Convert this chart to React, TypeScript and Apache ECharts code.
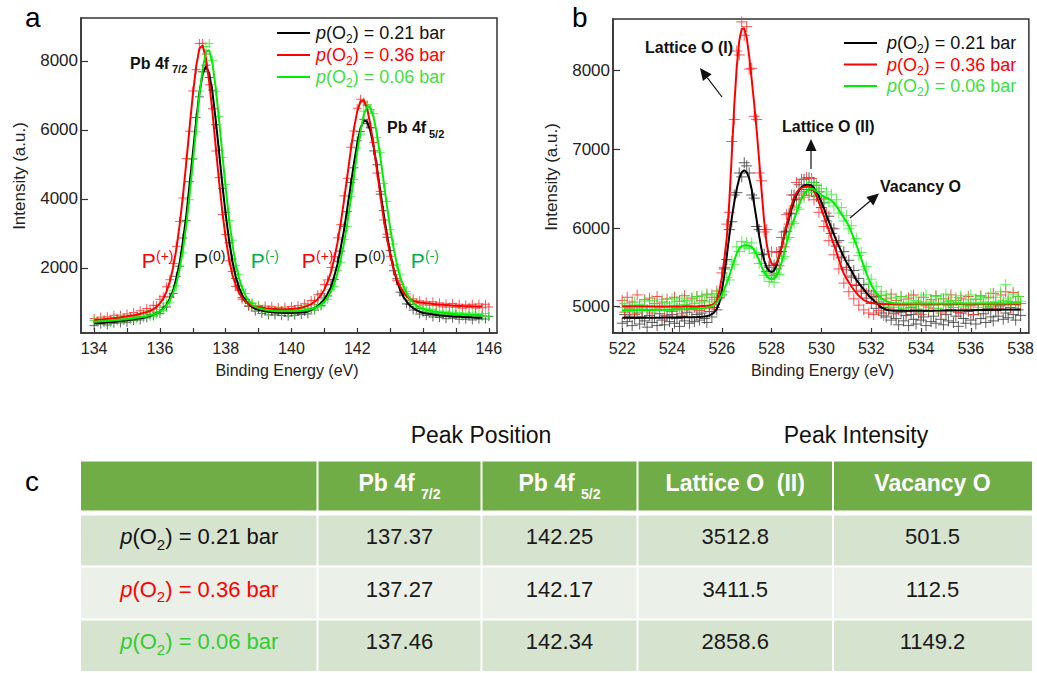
import React, { useEffect, useRef } from 'react';
import * as echarts from 'echarts';

const FONT = "'Liberation Sans', Arial, Helvetica, sans-serif";

// ---------------- Panel a : Pb 4f ----------------
const aStart = 134.0;
const aXTicks = [134, 135, 136, 137, 138, 139, 140, 141, 142, 143, 144, 145, 146];
const aXLabels = [134, 136, 138, 140, 142, 144, 146];
const aYLabels = [2000, 4000, 6000, 8000];

const aScatterBlack = [
  330, 436, 374, 432, 350, 438, 398, 499, 410, 492,
  425, 529, 474, 570, 495, 580, 555, 655, 610, 720,
  685, 865, 870, 1160, 1255, 1760, 2050, 2870, 3380, 4500,
  5160, 6360, 6960, 7690, 7880, 7520, 7155, 6155, 5415, 4310,
  3615, 2730, 2260, 1700, 1480, 1140, 1080, 890, 890, 750,
  825, 685, 765, 640, 750, 640, 744, 620, 708, 607,
  727, 630, 744, 649, 745, 670, 820, 780, 934, 915,
  1131, 1190, 1513, 1670, 2197, 2490, 3206, 3630, 4477, 4904,
  5686, 5952, 6309, 6184, 6063, 5394, 4992, 4140, 3662, 2890,
  2503, 1920, 1687, 1300, 1214, 960, 942, 780, 821, 665,
  727, 620, 705, 580, 687, 564, 647, 530, 643, 546,
  640, 515, 610, 515, 610, 495, 611, 518, 615, 522,
  590,
];
const aScatterRed = [
  537, 457, 577, 497, 587, 488, 629, 531, 634, 547,
  670, 584, 709, 605, 762, 670, 827, 775, 918, 915,
  1095, 1170, 1455, 1660, 2130, 2630, 3350, 4030, 5170, 5965,
  7130, 7750, 8510, 8510, 8200, 7310, 6615, 5390, 4620, 3550,
  2970, 2210, 1900, 1465, 1360, 1095, 1090, 905, 975, 820,
  917, 782, 897, 778, 889, 753, 857, 767, 867, 760,
  884, 784, 915, 822, 964, 930, 1061, 1050, 1226, 1260,
  1520, 1656, 2016, 2329, 2874, 3256, 4090, 4600, 5500, 5970,
  6630, 6890, 6810, 6720, 6070, 5640, 4750, 4220, 3390, 2980,
  2340, 2080, 1630, 1525, 1270, 1250, 1055, 1105, 980, 1050,
  930, 1020, 920, 1020, 910, 990, 872, 965, 868, 970,
  865, 950, 836, 933, 860, 948, 837, 957, 848, 949,
  870,
];
const aScatterGreen = [
  480, 417, 504, 421, 498, 425, 523, 462, 550, 469,
  558, 500, 593, 516, 620, 555, 665, 590, 726, 660,
  800, 767, 983, 1008, 1342, 1483, 2053, 2437, 3337, 3979,
  5163, 5944, 7130, 7683, 8420, 8510, 8020, 7110, 6390, 5205,
  4425, 3380, 2805, 2075, 1805, 1386, 1264, 1010, 993, 835,
  887, 772, 830, 725, 802, 705, 788, 696, 785, 704,
  793, 708, 794, 714, 826, 750, 857, 795, 935, 890,
  1078, 1092, 1381, 1460, 1934, 2167, 2825, 3202, 4065, 4569,
  5478, 5878, 6544, 6735, 6590, 6474, 5785, 5353, 4451, 3928,
  3109, 2695, 2088, 1821, 1444, 1322, 1076, 1038, 867, 901,
  784, 830, 730, 800, 701, 754, 664, 745, 656, 717,
  629, 713, 628, 693, 608, 693, 610, 677, 594, 682,
  610,
];
const aFitBlack = [
  388, 396, 404, 412, 420, 428, 438, 449, 460, 472,
  485, 499, 514, 530, 545, 560, 585, 615, 650, 690,
  735, 825, 930, 1110, 1335, 1700, 2150, 2780, 3500, 4400,
  5310, 6240, 7060, 7630, 7840, 7640, 7075, 6265, 5345, 4400,
  3555, 2830, 2210, 1770, 1440, 1220, 1050, 950, 870, 820,
  785, 765, 745, 730, 720, 710, 704, 700, 698, 697,
  697, 700, 704, 709, 715, 740, 790, 840, 894, 985,
  1091, 1250, 1443, 1760, 2117, 2600, 3106, 3750, 4387, 5034,
  5606, 6052, 6269, 6244, 5973, 5514, 4912, 4250, 3592, 2990,
  2443, 2010, 1637, 1380, 1174, 1030, 912, 840, 781, 735,
  697, 680, 665, 650, 637, 624, 617, 610, 603, 596,
  590, 585, 580, 575, 570, 565, 561, 558, 555,
];
const aFitRed = [
  487, 497, 507, 517, 527, 538, 549, 561, 574, 587,
  600, 614, 629, 645, 672, 700, 727, 755, 808, 875,
  975, 1110, 1315, 1600, 2010, 2550, 3250, 4090, 5040, 6055,
  7020, 7830, 8360, 8450, 8080, 7390, 6485, 5480, 4500, 3620,
  2870, 2270, 1810, 1515, 1290, 1135, 1030, 955, 905, 880,
  867, 852, 837, 828, 819, 813, 807, 807, 807, 810,
  814, 824, 835, 852, 874, 910, 951, 1020, 1096, 1220,
  1370, 1606, 1866, 2269, 2734, 3316, 3970, 4680, 5390, 6040,
  6540, 6830, 6860, 6630, 6150, 5530, 4840, 4120, 3460, 2890,
  2400, 2000, 1680, 1465, 1310, 1180, 1105, 1045, 1020, 1000,
  990, 980, 970, 960, 950, 940, 932, 925, 918, 910,
  905, 900, 896, 893, 890, 888, 887, 887, 888,
];
const aFitGreen = [
  440, 447, 454, 461, 468, 475, 483, 492, 500, 509,
  518, 530, 543, 556, 570, 585, 605, 630, 656, 690,
  740, 807, 913, 1058, 1282, 1553, 1973, 2527, 3237, 4089,
  5043, 6044, 7000, 7763, 8270, 8310, 7910, 7200, 6270, 5285,
  4315, 3450, 2715, 2135, 1725, 1436, 1204, 1050, 943, 875,
  837, 812, 790, 775, 762, 755, 748, 746, 745, 744,
  743, 748, 754, 764, 776, 790, 807, 835, 875, 940,
  1018, 1152, 1311, 1530, 1854, 2247, 2735, 3302, 3955, 4669,
  5358, 5968, 6444, 6675, 6650, 6364, 5875, 5233, 4531, 3828,
  3179, 2605, 2148, 1751, 1494, 1262, 1116, 988, 907, 851,
  814, 790, 770, 750, 731, 714, 704, 695, 686, 677,
  669, 663, 658, 653, 648, 643, 640, 637, 634,
];

// ---------------- Panel b : O 1s ----------------
const bStart = 522.0;
const bXLabels = [522, 524, 526, 528, 530, 532, 534, 536, 538];
const bYLabels = [5000, 6000, 7000, 8000];

const bScatterBlack = [
  4790, 4900, 4810, 4880, 4760, 4850, 4920, 4780, 4870, 4820,
  4740, 4890, 4800, 4860, 4760, 4910, 4830, 4770, 4880, 4810,
  4900, 4790, 4850, 4750, 4880, 4820, 4930, 4790, 4860, 4810,
  4900, 4830, 4920, 4850, 4800, 4940, 4870, 4990, 4960, 5120,
  5150, 5480, 5600, 5980, 6080, 6420, 6450, 6700, 6650, 6830,
  6790, 6700, 6420, 6380, 6020, 5980, 5660, 5670, 5450, 5520,
  5400, 5530, 5480, 5700, 5700, 5950, 5960, 6190, 6180, 6420,
  6360, 6550, 6460, 6620, 6490, 6640, 6480, 6580, 6400, 6460,
  6260, 6320, 6090, 6150, 5930, 5990, 5770, 5840, 5630, 5700,
  5500, 5590, 5390, 5460, 5270, 5360, 5190, 5280, 5110, 5200,
  5040, 5130, 4980, 5060, 4920, 4990, 4870, 4960, 4830, 4920,
  4850, 4770, 4930, 4820, 4890, 4760, 4900, 4840, 4780, 4920,
  4830, 4870, 4760, 4940, 4810, 4880, 4790, 4950, 4840, 4770,
  4900, 4820, 4960, 4800, 4880, 4750, 4920, 4850, 4790, 4940,
  4830, 4900, 4780, 4960, 4850, 4910, 4800, 4980, 4870, 4820,
  4950, 4880, 5010, 4840, 4920, 4860, 4990, 4900, 4830, 4960,
  4890,
];
const bScatterRed = [
  5080, 4930, 5120, 4980, 5060, 4900, 5150, 5010, 4950, 5090,
  4960, 5110, 4920, 5040, 5130, 4970, 5060, 4890, 5100, 5000,
  4940, 5120, 4980, 5070, 4910, 5140, 5020, 4960, 5100, 4990,
  5130, 4950, 5080, 5010, 5160, 4980, 5120, 5030, 5200, 5110,
  5430, 5500, 6050, 6200, 7100, 7380, 8250, 8200, 8620, 8450,
  8560, 8020, 8030, 7420, 7380, 6700, 6600, 5950, 5980, 5500,
  5700, 5420, 5690, 5520, 5880, 5760, 6170, 6050, 6420, 6280,
  6580, 6380, 6620, 6420, 6640, 6410, 6630, 6360, 6540, 6200,
  6370, 6020, 6190, 5840, 6000, 5660, 5820, 5480, 5620, 5300,
  5470, 5190, 5370, 5100, 5280, 5020, 5210, 4960, 5170, 4920,
  5150, 4900, 5120, 4950, 5140, 4890, 5100, 4980, 5160, 4910,
  5080, 4960, 5130, 5020, 4940, 5110, 4990, 5150, 4970, 5060,
  4900, 5120, 5010, 4950, 5090, 4980, 5140, 5030, 4920, 5100,
  4960, 5070, 5150, 4990, 5080, 4930, 5110, 5040, 4970, 5130,
  5010, 4900, 5090, 4960, 5140, 5030, 4950, 5120, 5000, 5170,
  5060, 4980, 5150, 5030, 5190, 5070, 4990, 5180, 5060, 5130,
  5040,
];
const bScatterGreen = [
  4990, 5040, 4940, 5020, 4970, 5060, 4950, 5030, 4980, 5070,
  4960, 5010, 5080, 4970, 5040, 4990, 5090, 5000, 5050, 4980,
  5100, 5020, 5070, 4990, 5110, 5030, 5080, 5010, 5120, 5040,
  5130, 5050, 5140, 5070, 5150, 5060, 5160, 5090, 5170, 5120,
  5200, 5190, 5370, 5340, 5580, 5540, 5760, 5700, 5830, 5760,
  5820, 5740, 5810, 5680, 5690, 5550, 5550, 5400, 5430, 5320,
  5390, 5310, 5430, 5410, 5610, 5640, 5860, 5880, 6080, 6060,
  6260, 6240, 6440, 6390, 6540, 6460, 6580, 6450, 6550, 6400,
  6500, 6360, 6460, 6330, 6430, 6280, 6360, 6190, 6260, 6090,
  6160, 5990, 6030, 5820, 5870, 5650, 5690, 5470, 5510, 5300,
  5350, 5170, 5260, 5090, 5190, 5040, 5150, 5000, 5120, 4990,
  5110, 5010, 5130, 4980, 5090, 5020, 5140, 5000, 5080, 4970,
  5120, 5030, 5150, 4990, 5070, 5020, 5130, 4980, 5100, 5040,
  5160, 5010, 5080, 4990, 5120, 5050, 5140, 5000, 5090, 5030,
  5150, 5020, 5100, 4990, 5130, 5060, 5110, 5000, 5170, 5050,
  5120, 5020, 5190, 5080, 5280, 5110, 5060, 5160, 5040, 5130,
  5070,
];
const bFitXEdgesLeft = [522, 523, 524, 525];
const bFitXEdgesRight = [534, 535, 536, 537, 538];
const bFitBlack = [
  4860, 4860, 4862, 4868,
  4870, 4873, 4877, 4882, 4890, 4905, 4930, 4975, 5050, 5200,
  5400, 5650, 5900, 6130, 6330, 6500, 6630, 6710, 6735, 6710,
  6630, 6490, 6300, 6100, 5900, 5720, 5590, 5500, 5455, 5440,
  5460, 5530, 5640, 5760, 5890, 6020, 6120, 6240, 6340, 6420,
  6480, 6520, 6540, 6550, 6550, 6540, 6510, 6460, 6400, 6330,
  6250, 6160, 6080, 6000, 5920, 5840, 5770, 5700, 5630, 5570,
  5515, 5460, 5400, 5340, 5300, 5260, 5220, 5180, 5140, 5110,
  5080, 5050, 5020, 4995, 4975, 4962, 4955, 4952, 4950, 4950,
  4950, 4952, 4955, 4960, 4965,
];
const bFitRed = [
  5005, 5003, 5002, 5005,
  5007, 5009, 5010, 5011, 5012, 5022, 5040, 5080, 5200, 5370,
  5600, 5880, 6330, 6930, 7560, 8050, 8380, 8530, 8540, 8420,
  8180, 7890, 7580, 7240, 6860, 6460, 6090, 5800, 5630, 5550,
  5530, 5560, 5640, 5760, 5900, 6040, 6170, 6290, 6390, 6450,
  6490, 6510, 6520, 6525, 6525, 6510, 6470, 6410, 6330, 6240,
  6150, 6060, 5970, 5880, 5790, 5700, 5600, 5500, 5420, 5360,
  5310, 5260, 5215, 5175, 5140, 5110, 5085, 5070, 5058, 5050,
  5045, 5040, 5037, 5035, 5033, 5032, 5031, 5030, 5030, 5030,
  5030, 5030, 5030, 5031, 5032,
];
const bFitGreen = [
  4955, 4958, 4962, 4975,
  4978, 4982, 4985, 4990, 4995, 5005, 5025, 5055, 5095, 5150,
  5220, 5300, 5390, 5490, 5590, 5680, 5740, 5770, 5780, 5780,
  5775, 5760, 5720, 5660, 5590, 5510, 5440, 5390, 5360, 5350,
  5355, 5390, 5460, 5560, 5680, 5810, 5930, 6030, 6110, 6200,
  6290, 6370, 6430, 6470, 6495, 6500, 6490, 6470, 6445, 6420,
  6400, 6385, 6370, 6350, 6320, 6280, 6230, 6180, 6130, 6080,
  6030, 5950, 5870, 5790, 5700, 5610, 5520, 5430, 5350, 5280,
  5220, 5175, 5140, 5110, 5085, 5070, 5060, 5052, 5048, 5045,
  5040, 5040, 5040, 5042, 5045,
];

// ---------------- Table c ----------------
const tableTitles = ['Peak Position', 'Peak Intensity'];
const tableHeaders = [['Pb 4f ', '7/2'], ['Pb 4f ', '5/2'], ['Lattice O  (II)', ''], ['Vacancy O', '']];
const tablePressures = ['0.21', '0.36', '0.06'];
const tableValues = [
  ['137.37', '142.25', '3512.8', '501.5'],
  ['137.27', '142.17', '3411.5', '112.5'],
  ['137.46', '142.34', '2858.6', '1149.2'],
];

const seriesNames = ['0.21', '0.36', '0.06'];

// ---------------- styling ----------------
const LINE_COLORS = ['#000000', '#ff0000', '#00ee00'];
const CROSS_COLORS = ['#3a3a3a', '#ff2a2a', '#2ef02e'];
const LEGEND_TEXT = ['#111111', '#ff0000', '#3ee03e'];
const TABLE_LABEL = ['#111111', '#ff0000', '#33cc33'];
const PLUS = 'path://M0,5L10,5M5,0L5,10';

const gridX = (start: number, n: number) =>
  Array.from({ length: n }, (_, i) => +(start + i * 0.1).toFixed(1));

function scatter(start: number, ys: number[], color: string, gi: number, size: number) {
  const xs = gridX(start, ys.length);
  return {
    type: 'scatter',
    xAxisIndex: gi,
    yAxisIndex: gi,
    data: ys.map((y, i) => [xs[i], y]),
    symbol: PLUS,
    symbolSize: size,
    itemStyle: { color: 'rgba(0,0,0,0)', borderColor: color, borderWidth: 1, opacity: 0.8 },
    silent: true,
    z: 2,
  };
}
function fitLine(xs: number[], ys: number[], color: string, gi: number) {
  return {
    type: 'line',
    xAxisIndex: gi,
    yAxisIndex: gi,
    data: ys.map((y, i) => [xs[i], y]),
    showSymbol: false,
    symbol: 'none',
    lineStyle: { color, width: 2 },
    silent: true,
    z: 3,
  };
}

function txt(text: string, x: number, y: number, size: number, color: string, extra: any = {}) {
  return {
    type: 'text',
    x,
    y,
    z: 50,
    silent: true,
    style: {
      text,
      fill: color,
      fontSize: size,
      fontFamily: FONT,
      align: 'left',
      verticalAlign: 'middle',
      ...extra,
    },
  };
}

// main tokens are top-aligned, the subscript token is bottom-aligned in a taller line
function pressureText(val: string, x: number, y: number, size: number, sub: number, drop: number, color: string, align: string) {
  const mainCenter = size / 2;
  const mainBase = mainCenter + 0.35 * size;
  const subBase = mainBase + drop;
  const subCenter = subBase - 0.35 * sub;
  const L = Math.round(subCenter + sub / 2);
  const base = { fontSize: size, lineHeight: size, verticalAlign: 'top', fill: color, fontFamily: FONT };
  return {
    type: 'text',
    x,
    y: y + (L / 2 - mainCenter),
    z: 50,
    silent: true,
    style: {
      text: `{i|p}{n|(O}{s|2}{n|) = ${val} bar}`,
      align,
      verticalAlign: 'middle',
      fill: color,
      fontFamily: FONT,
      fontSize: size,
      rich: {
        i: { ...base, fontStyle: 'italic' },
        n: base,
        s: { fontSize: sub, lineHeight: L, verticalAlign: 'bottom', fill: color, fontFamily: FONT },
      },
    },
  };
}

function arrow(x1: number, y1: number, x2: number, y2: number) {
  const dx = x2 - x1;
  const dy = y2 - y1;
  const L = Math.hypot(dx, dy);
  const ux = dx / L;
  const uy = dy / L;
  const hl = 12;
  const hw = 5.5;
  const bx = x2 - ux * hl;
  const by = y2 - uy * hl;
  return [
    { type: 'line', z: 50, silent: true, shape: { x1, y1, x2: bx, y2: by }, style: { stroke: '#111', lineWidth: 1.2 } },
    {
      type: 'polygon',
      z: 50,
      silent: true,
      shape: { points: [[x2, y2], [bx - uy * hw, by + ux * hw], [bx + uy * hw, by - ux * hw]] },
      style: { fill: '#111' },
    },
  ];
}

function axisX(gi: number, min: number, max: number, ticks: number[], labels: number[]) {
  return {
    type: 'value',
    gridIndex: gi,
    min,
    max,
    axisLine: { show: true, onZero: false, lineStyle: { color: '#333', width: 1.5 } },
    axisTick: { show: true, inside: true, length: 5, customValues: ticks, lineStyle: { color: '#333', width: 1.2 } },
    axisLabel: {
      customValues: labels,
      formatter: (v: number) => String(v),
      fontSize: 16,
      color: '#222',
      margin: 7,
      fontFamily: FONT,
    },
    splitLine: { show: false },
  };
}
function axisY(gi: number, min: number, max: number, labels: number[]) {
  return {
    type: 'value',
    gridIndex: gi,
    min,
    max,
    axisLine: { show: true, onZero: false, lineStyle: { color: '#333', width: 1.5 } },
    axisTick: { show: true, inside: true, length: 7, customValues: labels, lineStyle: { color: '#333', width: 1.2 } },
    axisLabel: {
      customValues: labels,
      formatter: (v: number) => String(v),
      fontSize: 17,
      color: '#222',
      margin: 3,
      fontFamily: FONT,
    },
    splitLine: { show: false },
  };
}

function buildGraphics() {
  const g: any[] = [];
  // panel letters
  g.push(txt('a', 25, 17, 28, '#000'));
  g.push(txt('b', 572, 17, 28, '#000'));
  g.push(txt('c', 25, 481, 28, '#000'));

  // axis names
  g.push(txt('Intensity (a.u.)', 19.5, 176, 17, '#222', { align: 'center' }));
  g[g.length - 1].rotation = Math.PI / 2;
  g.push(txt('Intensity (a.u.)', 551.5, 177, 17, '#222', { align: 'center' }));
  g[g.length - 1].rotation = Math.PI / 2;
  g.push(txt('Binding Energy (eV)', 287, 370, 16, '#222', { align: 'center' }));
  g.push(txt('Binding Energy (eV)', 822.5, 370, 16, '#222', { align: 'center' }));

  // legends
  const legA = { lx: 277, tx: 316, ys: [33, 55, 77] };
  const legB = { lx: 844, tx: 887, ys: [43, 64.5, 86] };
  [legA, legB].forEach((lg) => {
    lg.ys.forEach((y, k) => {
      g.push({
        type: 'line',
        z: 50,
        silent: true,
        shape: { x1: lg.lx, y1: y, x2: lg.lx + 33, y2: y },
        style: { stroke: LINE_COLORS[k], lineWidth: 2 },
      });
      g.push(pressureText(seriesNames[k], lg.tx, y, 18, 12, 3.5, LEGEND_TEXT[k], 'left'));
    });
  });

  // panel a annotations
  g.push(txt('Pb 4f', 130, 63, 16, '#111', { fontWeight: 'bold' }));
  g.push(txt('7/2', 172, 69, 11, '#111', { fontWeight: 'bold' }));
  g.push(txt('Pb 4f', 387, 127.5, 16, '#111', { fontWeight: 'bold' }));
  g.push(txt('5/2', 429, 134, 11, '#111', { fontWeight: 'bold' }));
  const pGroups = [
    [141.7, 194, 250.7],
    [301.7, 354, 410.7],
  ];
  const pSup = ['(+)', '(0)', '(-)'];
  const pColors = ['#ff0000', '#1a1a1a', '#00b050'];
  pGroups.forEach((grp) => {
    grp.forEach((x, k) => {
      g.push(txt('P', x, 260, 21, pColors[k]));
      g.push(txt(pSup[k], x + 14.3, 256, 14, pColors[k]));
    });
  });

  // panel b annotations
  g.push(txt('Lattice O (I)', 645, 47.5, 16, '#111', { fontWeight: 'bold' }));
  g.push(txt('Lattice O (II)', 782, 126, 16, '#111', { fontWeight: 'bold' }));
  g.push(txt('Vacancy O', 880, 186, 16, '#111', { fontWeight: 'bold' }));
  g.push(...arrow(722, 97, 700, 68));
  g.push(...arrow(811, 169, 811, 139));
  g.push(...arrow(850, 218, 879, 193.5));

  // table c
  const colX = [81, 317.5, 481.5, 637.5, 833, 1032];
  const headY = [461.5, 510.5];
  const rowY = [
    [515.5, 565.5],
    [567.5, 618.5],
    [620.5, 671],
  ];
  const rowFill = ['#d6e3cf', '#ebf0e8', '#d6e3cf'];
  g.push(txt(tableTitles[0], 481, 435, 23, '#111', { align: 'center' }));
  g.push(txt(tableTitles[1], 856, 435, 23, '#111', { align: 'center' }));

  for (let c = 0; c < 5; c++) {
    const x0 = colX[c] + (c === 0 ? 0 : 1);
    const x1 = colX[c + 1] - (c === 4 ? 0 : 1);
    g.push({
      type: 'rect',
      z: 1,
      silent: true,
      shape: { x: x0, y: headY[0], width: x1 - x0, height: headY[1] - headY[0] },
      style: { fill: '#70ad47' },
    });
    rowY.forEach((ry, r) => {
      g.push({
        type: 'rect',
        z: 1,
        silent: true,
        shape: { x: x0, y: ry[0], width: x1 - x0, height: ry[1] - ry[0] },
        style: { fill: rowFill[r] },
      });
    });
  }
  // header texts
  tableHeaders.forEach((h, k) => {
    const cx = (colX[k + 1] + colX[k + 2]) / 2;
    const hasSub = h[1] !== '';
    const size = 23;
    const sub = 14;
    const mainCenter = size / 2;
    const subCenter = mainCenter + 0.35 * size + 7 - 0.35 * sub;
    const L = Math.round(subCenter + sub / 2);
    g.push({
      type: 'text',
      x: cx,
      y: 483 + (hasSub ? L / 2 - mainCenter : 0),
      z: 50,
      silent: true,
      style: {
        text: hasSub ? `{m|${h[0]}}{s|${h[1]}}` : `{m|${h[0]}}`,
        align: 'center',
        verticalAlign: 'middle',
        fill: '#fff',
        fontFamily: FONT,
        fontSize: size,
        fontWeight: 'bold',
        rich: {
          m: { fontSize: size, fontWeight: 'bold', lineHeight: size, verticalAlign: 'top', fill: '#fff', fontFamily: FONT },
          s: { fontSize: sub, fontWeight: 'bold', lineHeight: L, verticalAlign: 'bottom', fill: '#fff', fontFamily: FONT },
        },
      },
    });
  });
  // body
  rowY.forEach((ry, r) => {
    const cy = (ry[0] + ry[1]) / 2 - 4;
    g.push(pressureText(tablePressures[r], (colX[0] + colX[1]) / 2, cy, 22, 15, 5, TABLE_LABEL[r], 'center'));
    tableValues[r].forEach((v, k) => {
      g.push(txt(v, (colX[k + 1] + colX[k + 2]) / 2, cy, 22, '#1a1a1a', { align: 'center' }));
    });
  });
  return g;
}

export default function App() {
  const ref = useRef<HTMLDivElement>(null);
  useEffect(() => {
    document.body.style.margin = '0';
    const chart = echarts.init(ref.current as HTMLDivElement, undefined, { renderer: 'svg' });
    const aLineX = gridX(aStart, aFitBlack.length);
    const bLineX = [...bFitXEdgesLeft, ...gridX(525.1, 80), ...bFitXEdgesRight];
    const option: any = {
      animation: false,
      backgroundColor: '#ffffff',
      textStyle: { fontFamily: FONT },
      grid: [
        { left: 81, top: 18, width: 416, height: 315, show: true, borderColor: '#333', borderWidth: 1.5, backgroundColor: 'transparent' },
        { left: 613, top: 19, width: 416, height: 314, show: true, borderColor: '#333', borderWidth: 1.5, backgroundColor: 'transparent' },
      ],
      xAxis: [axisX(0, 133.6, 146.25, aXTicks, aXLabels), axisX(1, 521.63, 538.33, bXLabels, bXLabels)],
      yAxis: [axisY(0, 116, 9246, aYLabels), axisY(1, 4666, 8657, bYLabels)],
      series: [
        scatter(aStart, aScatterBlack, CROSS_COLORS[0], 0, 9),
        scatter(aStart, aScatterRed, CROSS_COLORS[1], 0, 9),
        scatter(aStart, aScatterGreen, CROSS_COLORS[2], 0, 9),
        fitLine(aLineX, aFitBlack, LINE_COLORS[0], 0),
        fitLine(aLineX, aFitRed, LINE_COLORS[1], 0),
        fitLine(aLineX, aFitGreen, LINE_COLORS[2], 0),
        scatter(bStart, bScatterBlack, CROSS_COLORS[0], 1, 11),
        scatter(bStart, bScatterRed, CROSS_COLORS[1], 1, 11),
        scatter(bStart, bScatterGreen, CROSS_COLORS[2], 1, 11),
        fitLine(bLineX, bFitBlack, LINE_COLORS[0], 1),
        fitLine(bLineX, bFitRed, LINE_COLORS[1], 1),
        fitLine(bLineX, bFitGreen, LINE_COLORS[2], 1),
      ],
      graphic: { elements: buildGraphics() },
    };
    chart.setOption(option);
    return () => chart.dispose();
  }, []);
  return <div ref={ref} style={{ width: 1037, height: 673 }} />;
}
